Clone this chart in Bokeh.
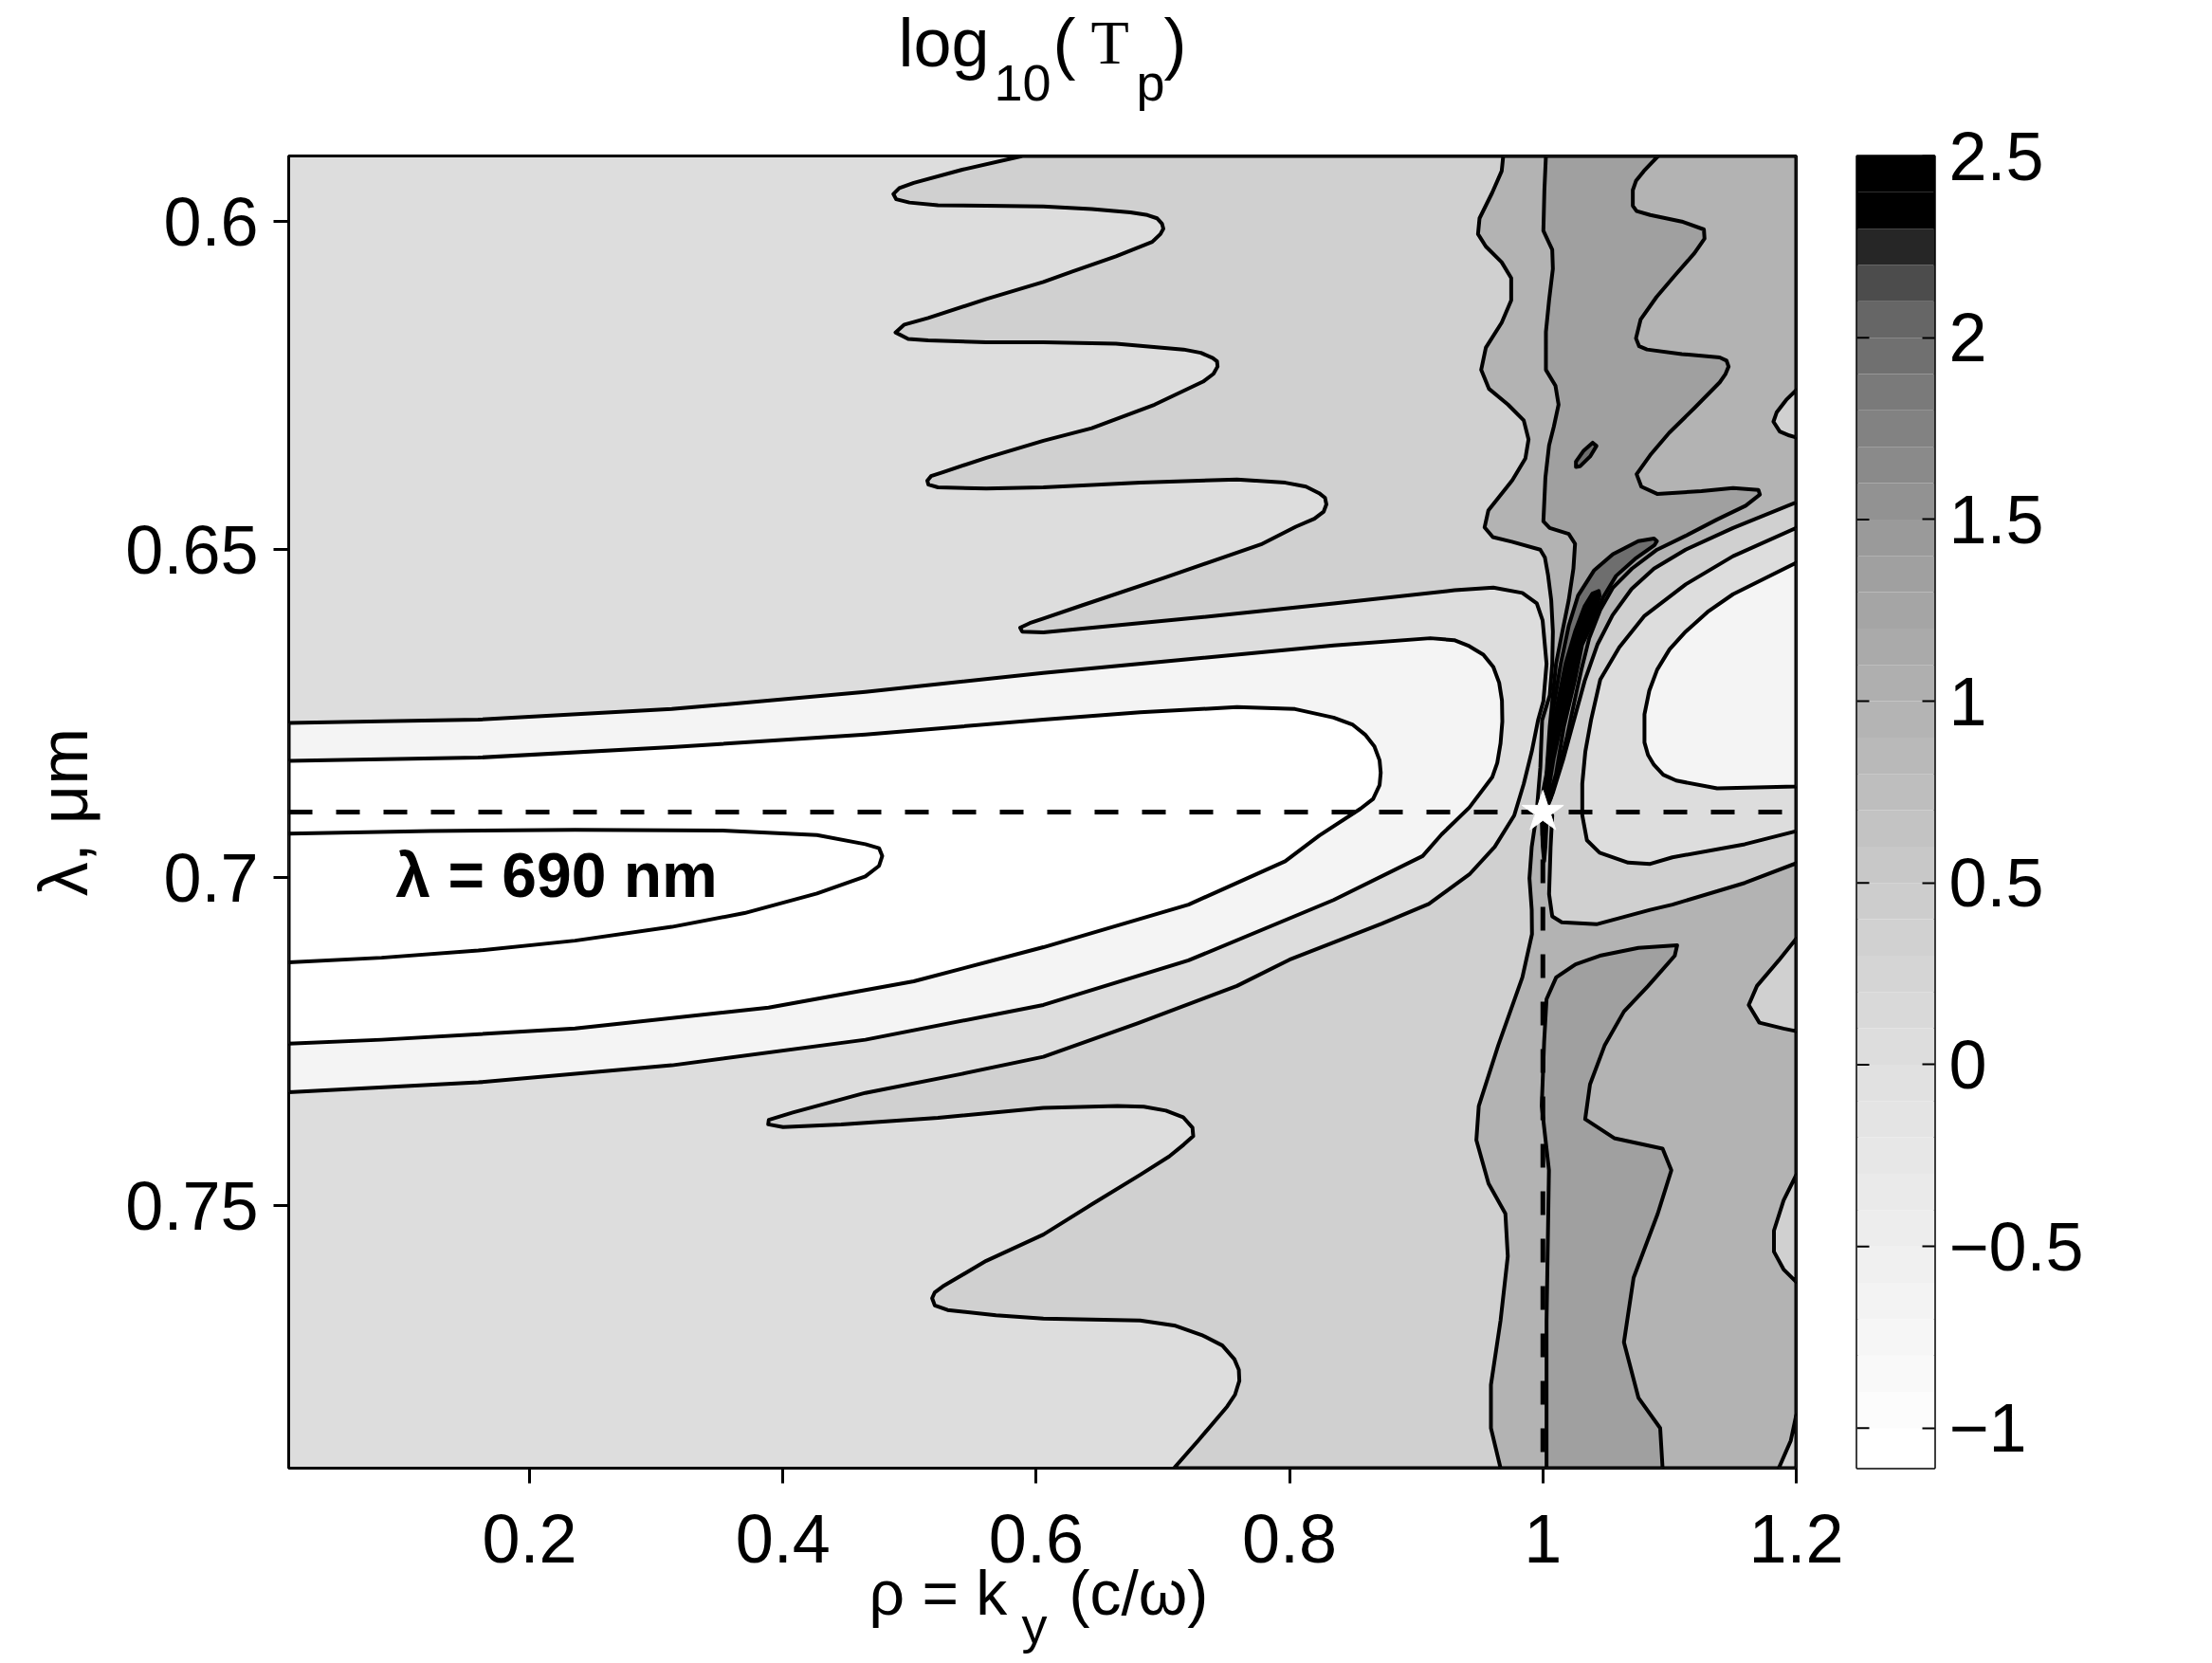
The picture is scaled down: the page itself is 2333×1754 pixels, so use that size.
from bokeh.plotting import figure
from bokeh.models import Range1d, FixedTicker
from bokeh.layouts import row, column
from bokeh.core.properties import value
from bokeh.embed import file_html
from bokeh.resources import INLINE

# ---------------- axes / ticks ----------------
x_lim = (0.01, 1.2)
y_lim = (0.79, 0.59)          # reversed: 0.6 at top
x_ticks = [0.2, 0.4, 0.6, 0.8, 1.0, 1.2]
x_tick_labels = ["0.2", "0.4", "0.6", "0.8", "1", "1.2"]
y_ticks = [0.6, 0.65, 0.7, 0.75]
y_tick_labels = ["0.6", "0.65", "0.7", "0.75"]

# colour bar
cb_lim = (-1.11, 2.5)
cb_ticks = [-1, -0.5, 0, 0.5, 1, 1.5, 2, 2.5]
cb_tick_labels = ["\u22121", "\u22120.5", "0", "0.5", "1", "1.5", "2", "2.5"]
cb_edges = [-1.11, -1.0, -0.9, -0.8, -0.7, -0.6, -0.5, -0.4, -0.3, -0.2, -0.1, 0.0,
            0.1, 0.2, 0.3, 0.4, 0.5, 0.6, 0.7, 0.8, 0.9, 1.0, 1.1, 1.2, 1.3, 1.4,
            1.5, 1.6, 1.7, 1.8, 1.9, 2.0, 2.1, 2.2, 2.3, 2.4, 2.5]
cb_colors = ["#ffffff", "#fcfcfc", "#f9f9f9", "#f6f6f6", "#f3f3f3", "#f0f0f0",
             "#ededed", "#eaeaea", "#e7e7e7", "#e4e4e4", "#e1e1e1", "#dddddd",
             "#d9d9d9", "#d5d5d5", "#d1d1d1", "#cdcdcd", "#c8c8c8", "#c3c3c3",
             "#bebebe", "#b9b9b9", "#b4b4b4", "#afafaf", "#aaaaaa", "#a5a5a5",
             "#a0a0a0", "#9a9a9a", "#929292", "#8a8a8a", "#828282", "#7a7a7a",
             "#707070", "#666666", "#4c4c4c", "#262626", "#000000", "#000000"]

# fill colours of the contour bands (lowest -> highest)
c_white, c_f4, c_dd, c_d0, c_b3, c_a0, c_6e, c_bk = (
    "#ffffff", "#f4f4f4", "#dddddd", "#d0d0d0", "#b3b3b3", "#a0a0a0", "#6e6e6e", "#000000")

# ---------------- contour lines (rho, lambda) ----------------
lb = [(0.01, 0.6764), (0.1597, 0.6759), (0.3124, 0.6743), (0.4652, 0.6717), (0.6057, 0.6688),
      (0.7203, 0.6667), (0.8348, 0.6646), (0.9112, 0.6635), (0.9300, 0.6638), (0.9418, 0.6647),
      (0.9530, 0.6660), (0.9609, 0.6679), (0.9655, 0.6703), (0.9677, 0.6730), (0.9680, 0.6762),
      (0.9666, 0.6795), (0.9640, 0.6825), (0.9600, 0.6847), (0.9420, 0.6893), (0.9201, 0.6934),
      (0.9051, 0.6967), (0.8348, 0.7034), (0.7203, 0.7126), (0.6057, 0.7194), (0.4652, 0.7247),
      (0.3124, 0.7286), (0.1597, 0.7312), (0.01, 0.7327)]
wt = [(0.01, 0.6822), (0.1597, 0.6817), (0.3124, 0.6801), (0.4652, 0.6782), (0.6057, 0.6759),
      (0.6821, 0.6748), (0.7585, 0.6740), (0.8043, 0.6743), (0.8348, 0.6756), (0.8500, 0.6767),
      (0.8597, 0.6782), (0.8670, 0.6800), (0.8711, 0.6821), (0.8720, 0.6840), (0.8711, 0.6859),
      (0.8660, 0.6880), (0.8560, 0.6895), (0.8234, 0.6936), (0.7966, 0.6975), (0.7203, 0.7041),
      (0.6057, 0.7106), (0.5034, 0.7158), (0.3888, 0.7198), (0.2360, 0.7230), (0.0833, 0.7247),
      (0.01, 0.7253)]
el = [(0.01, 0.6933), (0.1215, 0.6929), (0.2360, 0.6927), (0.3506, 0.6928), (0.4270, 0.6935),
      (0.4652, 0.6949), (0.4760, 0.6955), (0.4785, 0.6967), (0.4760, 0.6982), (0.4652, 0.6998),
      (0.4270, 0.7024), (0.3697, 0.7054), (0.3124, 0.7075), (0.2360, 0.7096), (0.1597, 0.7111),
      (0.0833, 0.7122), (0.01, 0.7129)]
s1 = [(0.5893, 0.5900), (0.5416, 0.5921), (0.5034, 0.5941), (0.4920, 0.5949), (0.4873, 0.5958),
      (0.4895, 0.5966), (0.5000, 0.5971), (0.5225, 0.5975), (0.5607, 0.5976), (0.6057, 0.5977),
      (0.6439, 0.5981), (0.6744, 0.5986), (0.6878, 0.5990), (0.6954, 0.5995), (0.6993, 0.6003),
      (0.7004, 0.6011), (0.6981, 0.6019), (0.6916, 0.6031), (0.6630, 0.6053), (0.6286, 0.6076),
      (0.6057, 0.6092), (0.5607, 0.6118), (0.5148, 0.6147), (0.4960, 0.6157), (0.4890, 0.6169),
      (0.4990, 0.6179), (0.5148, 0.6181), (0.5607, 0.6184), (0.6057, 0.6184), (0.6630, 0.6186),
      (0.7164, 0.6195), (0.7300, 0.6200), (0.7394, 0.6208), (0.7428, 0.6213), (0.7432, 0.6221),
      (0.7400, 0.6232), (0.7317, 0.6244), (0.6935, 0.6279), (0.6439, 0.6315), (0.6057, 0.6334),
      (0.5607, 0.6360), (0.5263, 0.6382), (0.5170, 0.6388), (0.5141, 0.6395), (0.5150, 0.6401),
      (0.5225, 0.6405), (0.5607, 0.6407), (0.6057, 0.6405), (0.6821, 0.6398), (0.7585, 0.6393),
      (0.7967, 0.6398), (0.8130, 0.6404), (0.8234, 0.6414), (0.8280, 0.6421), (0.8291, 0.6431),
      (0.8270, 0.6442), (0.8196, 0.6453), (0.8050, 0.6465), (0.7775, 0.6492), (0.7012, 0.6543),
      (0.6362, 0.6585), (0.6057, 0.6605), (0.5950, 0.6612), (0.5874, 0.6619), (0.5890, 0.6625),
      (0.6057, 0.6626), (0.7203, 0.6605), (0.8348, 0.6582), (0.9303, 0.6562), (0.9609, 0.6558),
      (0.9838, 0.6566), (0.9952, 0.6582), (0.9998, 0.6608), (1.0029, 0.6674), (1.0004, 0.6731),
      (0.9962, 0.6760), (0.9912, 0.6808), (0.9849, 0.6857), (0.9774, 0.6905), (0.9620, 0.6953),
      (0.9420, 0.6995), (0.9100, 0.7040), (0.8730, 0.7070), (0.8000, 0.7125), (0.7585, 0.7165),
      (0.6800, 0.7222), (0.6057, 0.7273), (0.5415, 0.7299), (0.4652, 0.7328), (0.4079, 0.7358),
      (0.3890, 0.7369), (0.3885, 0.7376), (0.4002, 0.7380), (0.4461, 0.7376), (0.5225, 0.7366),
      (0.6057, 0.7351), (0.6642, 0.7348), (0.6850, 0.7349), (0.7024, 0.7355), (0.7160, 0.7365),
      (0.7234, 0.7381), (0.7240, 0.7394), (0.7164, 0.7407), (0.7050, 0.7425), (0.6821, 0.7453),
      (0.6439, 0.7498), (0.6057, 0.7544), (0.5606, 0.7584), (0.5263, 0.7623), (0.5200, 0.7632),
      (0.5179, 0.7641), (0.5200, 0.7652), (0.5301, 0.7659), (0.5683, 0.7667), (0.6057, 0.7672),
      (0.6821, 0.7675), (0.7100, 0.7683), (0.7317, 0.7698), (0.7470, 0.7713), (0.7565, 0.7734),
      (0.7600, 0.7750), (0.7604, 0.7767), (0.7570, 0.7788), (0.7508, 0.7806), (0.7279, 0.7858),
      (0.7088, 0.7900)]
a_up = [(0.9687, 0.5900), (0.9675, 0.5923), (0.9600, 0.5956), (0.9500, 0.5995), (0.9488, 0.6019),
        (0.9550, 0.6038), (0.9675, 0.6062), (0.9750, 0.6086), (0.9750, 0.6120), (0.9675, 0.6154),
        (0.9550, 0.6192), (0.9513, 0.6226), (0.9575, 0.6255), (0.9725, 0.6279), (0.9849, 0.6303),
        (0.9887, 0.6332), (0.9862, 0.6361), (0.9760, 0.6394), (0.9570, 0.6440), (0.9540, 0.6466),
        (0.9605, 0.6481), (0.9755, 0.6488), (0.9979, 0.6500), (1.0016, 0.6512), (1.0041, 0.6539),
        (1.0066, 0.6577), (1.0079, 0.6625), (1.0074, 0.6674), (1.0054, 0.6722), (0.9994, 0.6760),
        (0.9980, 0.6832), (0.9949, 0.6905)]
a_lo = [(0.9949, 0.6905), (0.9912, 0.6953), (0.9894, 0.7001), (0.9912, 0.7049), (0.9914, 0.7086),
        (0.9838, 0.7152), (0.9647, 0.7256), (0.9494, 0.7348), (0.9475, 0.7400), (0.9571, 0.7466),
        (0.9704, 0.7512), (0.9723, 0.7577), (0.9666, 0.7675), (0.9590, 0.7773), (0.9590, 0.7839),
        (0.9666, 0.7900)]
r1 = [(1.0030, 0.6895), (1.0080, 0.6870), (1.0160, 0.6820), (1.0245, 0.6760), (1.0330, 0.6700),
      (1.0430, 0.6645), (1.0550, 0.6600), (1.0700, 0.6560), (1.0877, 0.6529), (1.1127, 0.6500),
      (1.1501, 0.6467), (1.2000, 0.6428)]
r3 = [(1.0074, 0.6905), (1.0061, 0.6953), (1.0049, 0.7025), (1.0074, 0.7059), (1.0149, 0.7068),
      (1.0423, 0.7071), (1.0847, 0.7049), (1.1022, 0.7041), (1.1594, 0.7008), (1.2000, 0.6978)]
r2 = [(1.2000, 0.6467), (1.1501, 0.6510), (1.1127, 0.6553), (1.0802, 0.6601), (1.0603, 0.6649),
      (1.0453, 0.6698), (1.0380, 0.6760), (1.0335, 0.6808), (1.0311, 0.6857), (1.0311, 0.6905),
      (1.0348, 0.6943), (1.0448, 0.6962), (1.0673, 0.6977), (1.0847, 0.6979), (1.1022, 0.6969),
      (1.1594, 0.6949), (1.2000, 0.6929)]
r4 = [(1.2000, 0.6520), (1.1501, 0.6568), (1.1300, 0.6595), (1.1127, 0.6625), (1.1000, 0.6652),
      (1.0902, 0.6683), (1.0840, 0.6715), (1.0802, 0.6751), (1.0802, 0.6794), (1.0830, 0.6813),
      (1.0877, 0.6828), (1.0950, 0.6843), (1.1052, 0.6852), (1.1376, 0.6864), (1.2000, 0.6861)]
b_left = [(1.0024, 0.5900), (1.0012, 0.5952), (1.0004, 0.6014), (1.0074, 0.6043), (1.0079, 0.6072),
          (1.0049, 0.6120), (1.0024, 0.6168), (1.0024, 0.6226), (1.0099, 0.6250), (1.0124, 0.6279),
          (1.0086, 0.6313), (1.0049, 0.6341), (1.0020, 0.6390), (1.0004, 0.6457), (1.0054, 0.6467),
          (1.0204, 0.6476), (1.0254, 0.6491), (1.0241, 0.6529), (1.0204, 0.6577), (1.0154, 0.6625),
          (1.0104, 0.6674), (1.0054, 0.6770), (1.0029, 0.6842), (1.0011, 0.6895)]
lw = [(1.0910, 0.5900), (1.0797, 0.5923), (1.0735, 0.5938), (1.0710, 0.5952), (1.0710, 0.5976),
      (1.0740, 0.5984), (1.0847, 0.5990), (1.1097, 0.6000), (1.1271, 0.6012), (1.1276, 0.6026),
      (1.1197, 0.6048), (1.1047, 0.6081), (1.0897, 0.6115), (1.0772, 0.6149), (1.0735, 0.6178),
      (1.0760, 0.6190), (1.0822, 0.6195), (1.1097, 0.6202), (1.1396, 0.6207), (1.1450, 0.6212),
      (1.1466, 0.6221), (1.1440, 0.6233), (1.1396, 0.6245), (1.1197, 0.6284), (1.0997, 0.6322),
      (1.0847, 0.6356), (1.0740, 0.6385), (1.0777, 0.6404), (1.0902, 0.6415), (1.1252, 0.6411),
      (1.1501, 0.6406), (1.1701, 0.6409), (1.1713, 0.6416), (1.1601, 0.6433), (1.1376, 0.6454),
      (1.1127, 0.6479), (1.0902, 0.6500), (1.0703, 0.6529), (1.0553, 0.6558), (1.0453, 0.6592),
      (1.0366, 0.6635), (1.0304, 0.6683), (1.0245, 0.6735), (1.0190, 0.6785), (1.0120, 0.6840),
      (1.0060, 0.6880), (1.0010, 0.6900)]
a0_low = [(1.0029, 0.7185), (1.0105, 0.7152), (1.0258, 0.7132), (1.0449, 0.7119), (1.0754, 0.7107),
          (1.1060, 0.7103), (1.1041, 0.7119), (1.0831, 0.7165), (1.0640, 0.7204), (1.0487, 0.7256),
          (1.0372, 0.7315), (1.0334, 0.7368), (1.0563, 0.7397), (1.0945, 0.7413), (1.1014, 0.7446),
          (1.0907, 0.7512), (1.0716, 0.7610), (1.0640, 0.7708), (1.0755, 0.7793), (1.0926, 0.7839),
          (1.0945, 0.7900), (1.0029, 0.7900), (1.0029, 0.7675), (1.0048, 0.7446), (0.9991, 0.7348),
          (1.0010, 0.7250)]
g6 = [(1.0900, 0.6487), (1.0877, 0.6483), (1.0753, 0.6487), (1.0553, 0.6507), (1.0403, 0.6532),
      (1.0278, 0.6570), (1.0204, 0.6616), (1.0141, 0.6674), (1.0079, 0.6746), (1.0041, 0.6818),
      (1.0020, 0.6890), (1.0045, 0.6880), (1.0104, 0.6842), (1.0166, 0.6770), (1.0254, 0.6698),
      (1.0310, 0.6645), (1.0403, 0.6606), (1.0478, 0.6572), (1.0578, 0.6540), (1.0728, 0.6514),
      (1.0882, 0.6493)]
g6_isle = [(1.0423, 0.6342), (1.0393, 0.6337), (1.0323, 0.6349), (1.0261, 0.6366), (1.0261, 0.6374),
           (1.0293, 0.6373), (1.0373, 0.6358)]
pk = [(1.0441, 0.6563), (1.0391, 0.6567), (1.0328, 0.6587), (1.0254, 0.6625), (1.0179, 0.6674),
      (1.0104, 0.6746), (1.0054, 0.6818), (1.0004, 0.6866), (0.9992, 0.6914), (0.9999, 0.6953),
      (1.0010, 0.6975), (1.0020, 0.6953), (1.0030, 0.6914), (1.0045, 0.6866), (1.0085, 0.6818),
      (1.0140, 0.6770), (1.0215, 0.6712), (1.0285, 0.6654), (1.0366, 0.6616), (1.0416, 0.6592),
      (1.0448, 0.6570)]
td_up = [(1.2, 0.6257), (1.1920, 0.6272), (1.1845, 0.6291), (1.1820, 0.6305), (1.1870, 0.6320),
         (1.1945, 0.6326), (1.2, 0.6329)]
td_a = [(1.2, 0.7093), (1.1862, 0.7126), (1.1690, 0.7165), (1.1625, 0.7194), (1.1709, 0.7221),
        (1.1900, 0.7230), (1.2, 0.7234)]
td_b = [(1.2, 0.7453), (1.1900, 0.7492), (1.1824, 0.7538), (1.1824, 0.7570), (1.1900, 0.7597),
        (1.2, 0.7616)]
td_c = [(1.1862, 0.7900), (1.1957, 0.7858), (1.2, 0.7819), (1.2, 0.7900)]

lam_mark = 0.69   # lambda = 690 nm
rho_mark = 1.0

# ---------------- layout constants (page pixels) ----------------
FONT = "Liberation Sans"
LW = 4
FRAME_L, FRAME_W, FRAME_H = 304, 1590, 1384
TITLE_H = 120
TOP_BORDER = 164 - TITLE_H
MAIN_W = FRAME_L + FRAME_W + 20
CB_W = 44 + 82 + 180
TOTAL_W = MAIN_W + CB_W
XLAB_TOP = 164 + FRAME_H + 20
XLAB_H = 1750 - XLAB_TOP
BASE_SHIFT = 0.36   # renderer places 'alphabetic' text this many em low; compensate


def xy(pts):
    return [q[0] for q in pts], [q[1] for q in pts]


def px2x(X):
    # page pixel -> rho (for text placement only)
    return 0.2 + (X - 558.0) / 1336.0


def px2y(Y):
    return 0.6 + (Y - 233.6) / 6924.0


def base(Y, size):
    return Y - BASE_SHIFT * size


def put_text(fig, x, y, txt, size, font=FONT, style="normal", align="left"):
    fig.text(x=[x], y=[y], text=[txt], text_font=value(font), text_font_size=value(f"{size}px"),
             text_font_style=style, text_baseline="alphabetic", text_align=align,
             text_color="black")


def bare(fig):
    fig.xaxis.visible = False
    fig.yaxis.visible = False
    fig.xgrid.visible = False
    fig.ygrid.visible = False
    fig.outline_line_color = None
    fig.background_fill_color = "white"
    fig.border_fill_color = "white"


# ---------------- title figure ----------------
pt = figure(frame_width=TOTAL_W, frame_height=TITLE_H, x_range=Range1d(0, TOTAL_W),
            y_range=Range1d(TITLE_H, 0), toolbar_location=None, output_backend="svg",
            min_border=0, min_border_left=0, min_border_right=0, min_border_top=0,
            min_border_bottom=0, frame_align=False)
bare(pt)
put_text(pt, 947, base(70, 72), "log", 72)
put_text(pt, 1048, base(106, 54), "10", 54)
put_text(pt, 1110, base(70, 72), "(", 72)
put_text(pt, 1150, base(68, 66), "T", 66, font="Liberation Serif")
put_text(pt, 1198, base(106, 54), "p", 54)
put_text(pt, 1227, base(70, 72), ")", 72)

# ---------------- main figure ----------------
p = figure(frame_width=FRAME_W, frame_height=FRAME_H, x_range=Range1d(*x_lim),
           y_range=Range1d(*y_lim), toolbar_location=None, output_backend="svg",
           min_border_left=FRAME_L, min_border_right=20, min_border_top=TOP_BORDER,
           min_border_bottom=20)
p.background_fill_color = c_dd
p.border_fill_color = "white"
p.outline_line_color = "black"
p.outline_line_width = 3
p.xgrid.visible = False
p.ygrid.visible = False


def patch(pts, color):
    xs, ys = xy(pts)
    p.patch(xs, ys, fill_color=color, line_color="black", line_width=LW, line_join="round")


TOP, BOT, RIGHT = y_lim[1], y_lim[0], x_lim[1]

patch(lb, c_f4)
patch(wt, c_white)
ex, ey = xy(el)
p.line(ex, ey, line_color="black", line_width=LW, line_join="round")
patch(s1 + [(RIGHT, BOT), (RIGHT, TOP)], c_d0)
patch(a_up + [(1.0010, 0.6905)] + r1 + [(RIGHT, TOP)], c_b3)
patch(a_lo + [(RIGHT, BOT)] + r3[::-1], c_b3)
patch(r2, c_dd)
patch(r4, c_f4)
patch(b_left + lw[::-1], c_a0)
patch(a0_low, c_a0)
for t in (td_up, td_a, td_b, td_c):
    patch(t, c_d0)
patch(g6, c_6e)
patch(g6_isle, c_6e)
patch(pk, c_bk)

p.line([x_lim[0], x_lim[1]], [lam_mark, lam_mark], line_color="black", line_width=5,
       line_dash="25 25")
p.line([rho_mark, rho_mark], [lam_mark, BOT], line_color="black", line_width=5, line_dash="25 25")
p.scatter([rho_mark], [lam_mark], marker="star", size=46, fill_color="white",
          line_color="white", line_width=1)

put_text(p, px2x(417), px2y(base(947, 66)), "\u03bb = 690 nm", 66, style="bold")

p.xaxis.ticker = FixedTicker(ticks=x_ticks)
p.xaxis.major_label_overrides = {t: "" for t in x_ticks}
p.xaxis.major_label_text_font_size = "1px"
p.xaxis.major_label_standoff = 0
p.yaxis.ticker = FixedTicker(ticks=y_ticks)
p.yaxis.major_label_overrides = dict(zip(y_ticks, y_tick_labels))
for ax in (p.xaxis[0], p.yaxis[0]):
    ax.axis_line_color = None
    ax.major_tick_line_color = "black"
    ax.major_tick_line_width = 3
    ax.major_tick_out = 16
    ax.major_tick_in = 0
    ax.minor_tick_line_color = None
p.yaxis.major_label_text_font = FONT
p.yaxis.major_label_text_font_size = "72px"
p.yaxis.major_label_text_color = "black"
p.yaxis.major_label_standoff = 16
p.yaxis.axis_label = "\u03bb, \u03bcm"
p.yaxis.axis_label_text_font = FONT
p.yaxis.axis_label_text_font_size = "72px"
p.yaxis.axis_label_text_font_style = "normal"
p.yaxis.axis_label_text_color = "black"
p.yaxis.axis_label_standoff = 22

# ---------------- colour bar ----------------
p2 = figure(frame_width=82, frame_height=FRAME_H, x_range=Range1d(0, 1), y_range=Range1d(*cb_lim),
            y_axis_location="right", toolbar_location=None, output_backend="svg",
            min_border_left=44, min_border_right=180, min_border_top=TOP_BORDER,
            min_border_bottom=20)
p2.quad(left=0, right=1, bottom=cb_edges[:-1], top=cb_edges[1:], fill_color=cb_colors,
        line_color=None)
p2.segment(x0=[0] * len(cb_ticks), x1=[13 / 82] * len(cb_ticks), y0=cb_ticks, y1=cb_ticks,
           line_color="black", line_width=2)
p2.xaxis.visible = False
p2.xgrid.visible = False
p2.ygrid.visible = False
p2.outline_line_color = "black"
p2.outline_line_width = 2.5
p2.border_fill_color = "white"
ya = p2.yaxis[0]
ya.ticker = FixedTicker(ticks=cb_ticks)
ya.major_label_overrides = dict(zip(cb_ticks, cb_tick_labels))
ya.axis_line_color = None
ya.major_tick_in = 13
ya.major_tick_out = 0
ya.major_tick_line_width = 2
ya.major_tick_line_color = "black"
ya.minor_tick_line_color = None
ya.major_label_standoff = 15
ya.major_label_text_font = FONT
ya.major_label_text_font_size = "72px"
ya.major_label_text_color = "black"

# ---------------- x tick labels and x-axis label (same rho scale as the plot) ----------------
px = figure(frame_width=TOTAL_W, frame_height=XLAB_H, x_range=Range1d(px2x(0), px2x(TOTAL_W)),
            y_range=Range1d(XLAB_TOP + XLAB_H, XLAB_TOP), toolbar_location=None,
            output_backend="svg", min_border=0, min_border_left=0, min_border_right=0,
            min_border_top=0, min_border_bottom=0, frame_align=False)
bare(px)
px.text(x=x_ticks, y=[base(1648, 72)] * len(x_ticks), text=x_tick_labels, text_font=value(FONT),
        text_font_size=value("72px"), text_baseline="alphabetic", text_align="center",
        text_color="black")
put_text(px, px2x(916), base(1703, 66), "\u03c1 = k", 66)
put_text(px, px2x(1077), base(1733, 54), "y", 54)
put_text(px, px2x(1127), base(1703, 66), "(c/\u03c9)", 66)

layout = column(pt, row(p, p2), px)
open("out.html", "w").write(file_html(layout, INLINE, title="log10(Tp)"))
